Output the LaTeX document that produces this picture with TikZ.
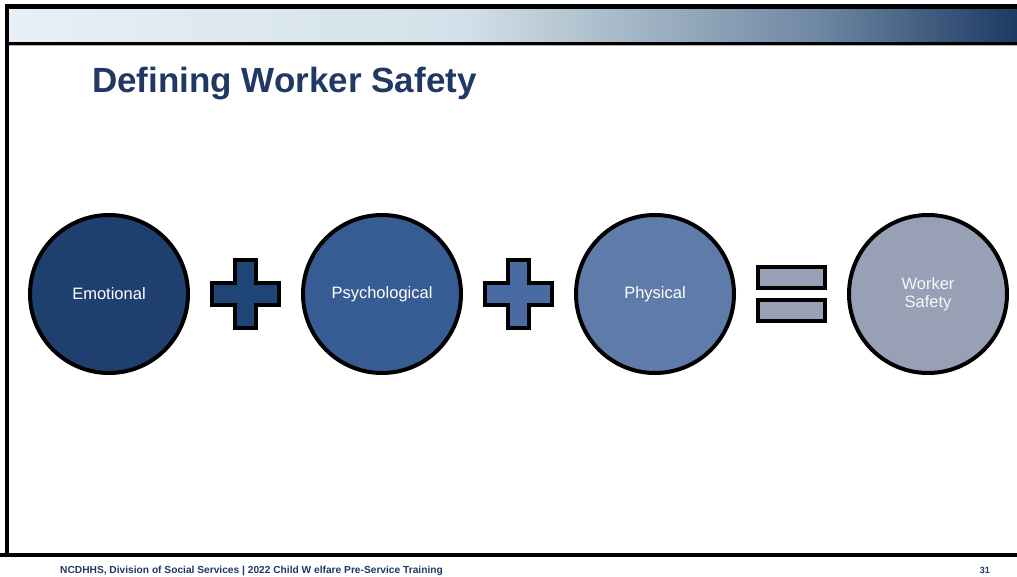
\documentclass[tikz,border=0pt]{standalone}
\usepackage{fontspec}
\setmainfont{Liberation Sans}
\usetikzlibrary{positioning,calc}

\definecolor{azulA}{HTML}{1F3F6E}
\definecolor{azulB}{HTML}{365C93}
\definecolor{azulC}{HTML}{5F7BAA}
\definecolor{cinzaA}{HTML}{97A0B4}
\definecolor{maisA}{HTML}{1F4577}
\definecolor{maisB}{HTML}{4A6BA1}
\definecolor{titulo}{HTML}{1F3864}
\definecolor{barA}{HTML}{E9EFF6}
\definecolor{barB}{HTML}{D2E1E9}
\definecolor{barC}{HTML}{A9BBC9}
\definecolor{barD}{HTML}{6F88A4}
\definecolor{barE}{HTML}{1D3A62}
\pgfdeclarehorizontalshading{barra}{100bp}{color(0bp)=(barA); color(25bp)=(barA); color(47.5bp)=(barB); color(55bp)=(barC); color(65bp)=(barD); color(75bp)=(barE); color(100bp)=(barE)}

\begin{document}
\begin{tikzpicture}[x=1pt,y=-1pt,node distance=115pt]
  \tikzstyle{bola}=[circle,draw,line width=4pt,outer sep=0pt,minimum size=158pt,align=center,text=white,font=\fontsize{16.5}{17.5}\selectfont]
  \tikzstyle{igual}=[rectangle,draw,line width=4pt,outer sep=0pt,minimum width=67pt,minimum height=21pt,fill=cinzaA]
  \tikzstyle{mais}=[draw,line width=4pt,miter limit=10]
  \useasboundingbox (0,0) rectangle (1017,577);
  % cabecalho
  \shade[shading=barra] (9,9) rectangle (1017,42);
  \fill (5,4) rectangle (1017,9);
  \fill (5,4) rectangle (9,555);
  \fill (9,42) rectangle (1017,45);
  \fill[gray!60] (9,45) rectangle (1017,46.5);
  \fill (0,553) rectangle (1017,557);
  \node[anchor=base west,inner sep=0pt,text=titulo,font=\fontsize{35}{40}\selectfont\bfseries] (tit) at (92,93) {Defining Worker Safety};
  % circulos
  \node[bola,fill=azulA] (emo) at (109,294) {Emotional};
  \node[bola,fill=azulB,right=of emo] (psi) {Psychological};
  \node[bola,fill=azulC,right=of psi] (fis) {Physical};
  \node[bola,fill=cinzaA,right=of fis,text=white!92!cinzaA] (seg) {Worker\\Safety};
  % sinais
  \coordinate (mais1) at ($(emo)!.5!(psi)$);
  \coordinate (mais2) at ($(psi)!.5!(fis)$);
  \draw[mais,fill=maisA] (mais1) ++(-33.5,-10.5) -- ++(23,0) -- ++(0,-23) -- ++(21,0) -- ++(0,23) -- ++(23,0) -- ++(0,21) -- ++(-23,0) -- ++(0,23) -- ++(-21,0) -- ++(0,-23) -- ++(-23,0) -- cycle;
  \draw[mais,fill=maisB] (mais2) ++(-33.5,-10.5) -- ++(23,0) -- ++(0,-23) -- ++(21,0) -- ++(0,23) -- ++(23,0) -- ++(0,21) -- ++(-23,0) -- ++(0,23) -- ++(-21,0) -- ++(0,-23) -- ++(-23,0) -- cycle;
  \node[igual] (ig1) at ($(fis)!.5!(seg)+(0,-16.5)$) {};
  \node[igual] (ig2) at ($(fis)!.5!(seg)+(0,16.5)$) {};
  % rodape
  \node[anchor=base west,inner sep=0pt,text=titulo,font=\fontsize{10.2}{11}\selectfont\bfseries] (rod) at (60,573) {NCDHHS, Division of Social Services | 2022 Child W elfare Pre-Service Training};
  \node[anchor=base east,inner sep=0pt,text=titulo,font=\fontsize{9}{10}\selectfont\bfseries] (pag) at (990,573) {31};
\end{tikzpicture}
\end{document}
